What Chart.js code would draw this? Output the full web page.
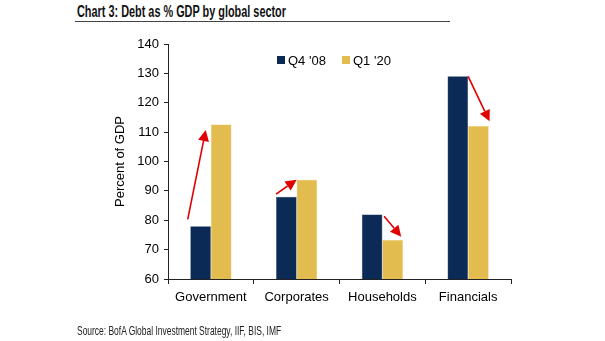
<!DOCTYPE html>
<html>
<head>
<meta charset="utf-8">
<script src="https://cdn.jsdelivr.net/npm/chart.js@4"></script>
<style>
  html, body { margin: 0; padding: 0; background: #fff; }
  #wrap { position: relative; width: 605px; height: 341px; overflow: hidden; }
  #chart { position: absolute; left: 0; top: 0; }
  #rule { position: absolute; left: 75px; top: 21px; width: 375px; height: 0; border-top: 1.5px solid #444; }
  .narrow {
    position: absolute; display: inline-block; white-space: nowrap;
    font-family: "Liberation Sans", Arial, sans-serif;
    transform-origin: 0 0;
  }
  #title { left: 77px; top: 3px; font-weight: bold; font-size: 16px; color: #111; transform: scaleX(0.68); }
  #source { left: 77px; top: 323px; font-size: 13px; color: #222; transform: scaleX(0.65); }
</style>
</head>
<body>
<div id="wrap">
  <span id="title" class="narrow">Chart 3: Debt as % GDP by global sector</span>
  <div id="rule"></div>
  <canvas id="chart" width="605" height="341"></canvas>
  <span id="source" class="narrow">Source: BofA Global Investment Strategy, IIF, BIS, IMF</span>
</div>
<script>
const sectors = ["Government", "Corporates", "Households", "Financials"];
const seriesNames = ["Q4 '08", "Q1 '20"];
const q4_08 = [78, 88, 82, 129];
const q1_20 = [112.6, 93.8, 73.3, 112.1];
const yTicks = [60, 70, 80, 90, 100, 110, 120, 130, 140];
// red arrows: start and end values (% of GDP)
const arrowFrom = [80.3, 88.9, 81.4, 129];
const arrowTo = [110.7, 93.8, 74.4, 113.7];

const navy = "#0b2a55";
const gold = "#e3bc50";
const font = { family: "'Liberation Sans', Arial, sans-serif", size: 13 };

// where arrows sit across each category (fraction of category width from centre)
const arrowOffX = [[-0.27, -0.06], [-0.24, 0.0], [0.02, 0.22], [0.0, 0.25]];

const arrowsPlugin = {
  id: "arrows",
  afterDatasetsDraw(chart) {
    const { ctx, scales: { x, y } } = chart;
    const cw = x.width / sectors.length;
    ctx.save();
    ctx.strokeStyle = "#e00000";
    ctx.fillStyle = "#e00000";
    ctx.lineWidth = 1.6;
    sectors.forEach((s, i) => {
      const cx = x.getPixelForValue(i);
      const x1 = cx + arrowOffX[i][0] * cw, y1 = y.getPixelForValue(arrowFrom[i]);
      const x2 = cx + arrowOffX[i][1] * cw, y2 = y.getPixelForValue(arrowTo[i]);
      const a = Math.atan2(y2 - y1, x2 - x1);
      const hl = 11, hw = 5.5;
      const bx = x2 - hl * Math.cos(a), by = y2 - hl * Math.sin(a);
      ctx.beginPath();
      ctx.moveTo(x1, y1);
      ctx.lineTo(bx, by);
      ctx.stroke();
      ctx.beginPath();
      ctx.moveTo(x2, y2);
      ctx.lineTo(bx + hw * Math.sin(a), by - hw * Math.cos(a));
      ctx.lineTo(bx - hw * Math.sin(a), by + hw * Math.cos(a));
      ctx.closePath();
      ctx.fill();
    });
    ctx.restore();
  }
};

const legendPlugin = {
  id: "boxLegend",
  afterDraw(chart) {
    const { ctx } = chart;
    const pos = [[277, 60], [342, 60]];
    ctx.save();
    ctx.font = "13px 'Liberation Sans', Arial, sans-serif";
    ctx.textBaseline = "middle";
    chart.data.datasets.forEach((ds, i) => {
      const [lx, ly] = pos[i];
      ctx.fillStyle = ds.backgroundColor;
      ctx.fillRect(lx, ly - 4, 8, 8);
      ctx.fillStyle = "#000";
      ctx.fillText(ds.label, lx + 11, ly + 1);
    });
    ctx.restore();
  }
};

new Chart(document.getElementById("chart"), {
  type: "bar",
  data: {
    labels: sectors,
    datasets: [
      { label: seriesNames[0], data: q4_08, backgroundColor: navy, borderColor: "#163a66", borderWidth: 0.5 },
      { label: seriesNames[1], data: q1_20, backgroundColor: gold, borderColor: "#eccb6a", borderWidth: 0.5 }
    ]
  },
  options: {
    responsive: false,
    animation: false,
    layout: { padding: { left: 109, right: 94, top: 44, bottom: 0 } },
    datasets: { bar: { categoryPercentage: 0.48, barPercentage: 1.0 } },
    plugins: { legend: { display: false }, title: { display: false }, tooltip: { enabled: false } },
    scales: {
      x: {
        grid: { drawOnChartArea: false, color: "#222", tickLength: 5, offset: true },
        border: { color: "#222", width: 1 },
        ticks: { color: "#000", font: font, padding: 6, maxRotation: 0 },
        afterFit(s) { s.height = 62; }
      },
      y: {
        min: 60, max: 140,
        afterBuildTicks(s) { s.ticks = yTicks.map(v => ({ value: v })); },
        grid: { drawOnChartArea: false, color: "#222", tickLength: 4 },
        border: { color: "#222", width: 1 },
        ticks: { color: "#000", font: font, padding: 5 },
        title: { display: true, text: "Percent of GDP", color: "#000", font: { family: font.family, size: 13 } },
        afterFit(s) { s.width = 59; }
      }
    }
  },
  plugins: [arrowsPlugin, legendPlugin]
});
</script>
</body>
</html>
